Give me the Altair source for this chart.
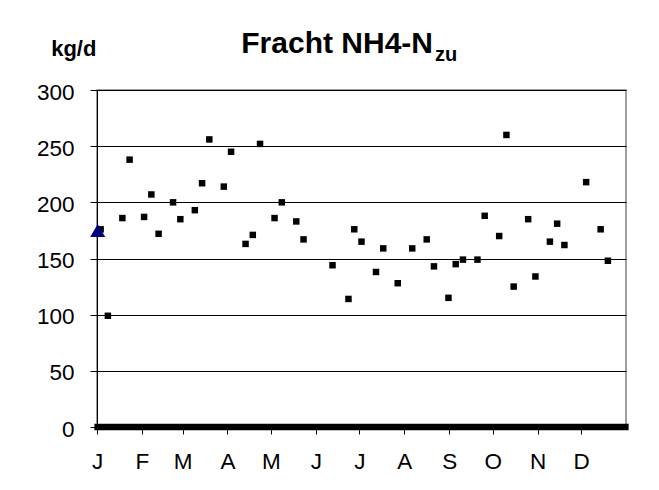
import altair as alt
import pandas as pd

# ---- data ----
month_labels = ["J", "F", "M", "A", "M", "J", "J", "A", "S", "O", "N", "D"]
month_start_days = [0, 31, 59, 90, 120, 151, 181, 212, 243, 273, 304, 334]

sample_days = [2.5, 7.5, 17.5, 22.5, 32.5, 37.5, 42.5, 52.5, 57.5, 67.5,
               72.5, 77.5, 87.5, 92.5, 102.5, 107.5, 112.5, 122.5, 127.5, 137.5,
               142.5, 162.5, 173.5, 177.5, 182.5, 192.5, 197.5, 207.5, 217.5, 227.5,
               232.5, 242.5, 247.5, 252.5, 262.5, 267.5, 277.5, 282.5, 287.5, 297.5,
               302.5, 312.5, 317.5, 322.5, 337.5, 347.5, 352.5]
sample_values = [176, 99, 186, 238, 187, 207, 172, 200, 185, 193,
                 217, 256, 214, 245, 163, 171, 252, 186, 200, 183,
                 167, 144, 114, 176, 165, 138, 159, 128, 159, 167,
                 143, 115, 145, 149, 149, 188, 170, 260, 125, 185,
                 134, 165, 181, 162, 218, 176, 148]

marker_days = [0.5]
marker_values = [175]

zero_band_start = [0.5]
zero_band_end = [364.5]
zero_band_value = [0]

y_ticks = [0, 50, 100, 150, 200, 250, 300]

title_main = "Fracht NH4-N"
title_sub = "zu"
unit_label = "kg/d"

FONT = "Liberation Sans, Arial, sans-serif"

# ---- tables ----
pts = pd.DataFrame({"day": sample_days, "value": sample_values})
tri = pd.DataFrame({"day": marker_days, "value": marker_values})
band = pd.DataFrame({"day": zero_band_start, "end": zero_band_end, "value": zero_band_value})

x_scale = alt.Scale(domain=[0, 365], nice=False, zero=False)
y_scale = alt.Scale(domain=[0, 300], nice=False)

label_expr = ("[" + ",".join("'%s'" % m for m in month_labels) + "][indexof(["
              + ",".join(str(d) for d in month_start_days) + "], datum.value)]")

x_axis = alt.Axis(values=month_start_days, labelExpr=label_expr, title=None,
                  grid=False, domain=False, tickSize=7, tickColor="black",
                  tickWidth=1, labelFont=FONT, labelFontSize=22.5,
                  labelColor="black", labelPadding=16, labelAngle=0,
                  labelFlush=False, labelOverlap=False)
y_axis = alt.Axis(values=y_ticks, title=None, grid=True, gridColor="black",
                  gridWidth=1, domain=True, domainColor="black", domainWidth=1,
                  tickSize=7, tickColor="black", tickWidth=1, labelFont=FONT,
                  labelFontSize=22.5, labelColor="black", labelPadding=16,
                  labelOffset=2, labelFlush=False, labelOverlap=False)

X = alt.X("day:Q", scale=x_scale, axis=x_axis)
Y = alt.Y("value:Q", scale=y_scale, axis=y_axis)

squares = alt.Chart(pts).mark_square(size=42, color="black", opacity=1).encode(x=X, y=Y)
triangle = alt.Chart(tri).mark_point(shape="triangle-up", filled=True,
                                     color="#000080", size=225, opacity=1).encode(x=X, y=Y)
zero_band = alt.Chart(band).mark_rule(color="black", strokeWidth=6.7,
                                      strokeCap="square").encode(x=X, x2="end:Q", y=Y)

t_main = alt.Chart(pd.DataFrame({"t": [title_main]})).mark_text(
    font=FONT, fontSize=30, fontWeight="bold", align="right",
    baseline="alphabetic", color="black").encode(
    text="t:N", x=alt.value(336), y=alt.value(-37.3))
t_sub = alt.Chart(pd.DataFrame({"t": [title_sub]})).mark_text(
    font=FONT, fontSize=20, fontWeight="bold", align="left",
    baseline="alphabetic", color="black").encode(
    text="t:N", x=alt.value(338), y=alt.value(-29.3))
t_unit = alt.Chart(pd.DataFrame({"t": [unit_label]})).mark_text(
    font=FONT, fontSize=22, fontWeight="bold", align="center",
    baseline="alphabetic", color="black").encode(
    text="t:N", x=alt.value(-23.2), y=alt.value(-34.3))

chart = alt.layer(squares, triangle, zero_band, t_main, t_sub, t_unit).properties(
    width=529, height=337,
    autosize=alt.AutoSizeParams(type="none"),
    padding={"left": 89, "top": 82, "right": 25, "bottom": 55},
    background="white",
).configure_view(stroke="#808080", strokeWidth=1.5)

chart.save("out.html", embed_options={"renderer": "svg", "actions": False})
